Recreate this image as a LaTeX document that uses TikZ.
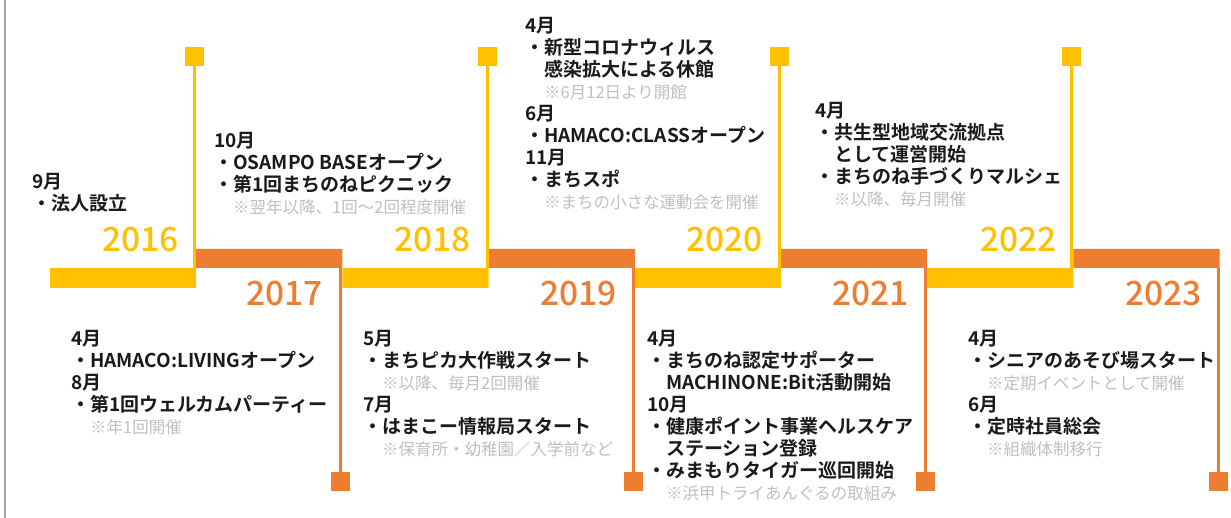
\documentclass[tikz,border=0pt]{standalone}
\usepackage{fontspec}
\setmainfont{Noto Sans CJK JP}[BoldFont={* Bold}]
\newfontfamily\yearfont{Noto Sans CJK JP Medium}
\definecolor{hyellow}{HTML}{FFC000}
\definecolor{horange}{HTML}{ED7D31}
\definecolor{memogray}{HTML}{BFBFBF}
\definecolor{txtblack}{HTML}{1A1A1A}
\definecolor{framegray}{HTML}{A6A6A6}
\newcommand\memo[1]{\hspace*{1em}{\mdseries\fontsize{16.5}{22}\selectfont\color{memogray}#1}}
\tikzset{
  evbox/.style={anchor=north west,align=left,inner sep=0pt,text=txtblack,font=\bfseries\fontsize{19}{22}\selectfont},
  yearup/.style={anchor=base east,inner sep=0pt,text=hyellow,font=\yearfont\fontsize{33.5}{34}\selectfont},
  yeardown/.style={yearup,text=horange},
  ysq/.style={fill=hyellow,minimum size=19pt,inner sep=0pt},
  osq/.style={fill=horange,minimum size=19pt,inner sep=0pt},
  yline/.style={draw=hyellow,line width=3pt},
  oline/.style={draw=horange,line width=3pt}
}
\begin{document}
\begin{tikzpicture}[x=1pt,y=-1pt]
  \useasboundingbox (0,0) rectangle (1231,518);
  \draw[framegray,line width=2pt] (5,0)--(5,518);
  \fill[hyellow] (50,268) rectangle (196.2,288) (342.4,268) rectangle (488.6,288) (634.8,268) rectangle (781,288) (927.2,268) rectangle (1073.4,288);
  \fill[horange] (196.2,249) rectangle (342.4,268) (488.6,249) rectangle (634.8,268) (781,249) rectangle (927.2,268) (1073.4,249) rectangle (1219.6,268);
  \coordinate (b16) at (194.7,268); \coordinate (b18) at (487.1,268);
  \coordinate (b20) at (779.5,268); \coordinate (b22) at (1071.9,268);
  \coordinate (b17) at (340.9,268); \coordinate (b19) at (633.3,268);
  \coordinate (b21) at (925.7,268); \coordinate (b23) at (1218.1,268);
  \node[ysq] (s16) at (194.7,56.5) {}; \node[ysq] (s18) at (487.1,56.5) {};
  \node[ysq] (s20) at (779.5,56.5) {}; \node[ysq] (s22) at (1071.9,56.5) {};
  \node[osq] (s17) at (340.9,481.5) {}; \node[osq] (s19) at (633.3,481.5) {};
  \node[osq] (s21) at (925.7,481.5) {}; \node[osq] (s23) at (1218.1,481.5) {};
  \draw[yline] (s16.center)--(b16) (s18.center)--(b18) (s20.center)--(b20) (s22.center)--(b22);
  \draw[oline] (b17)--(s17.center) (b19)--(s19.center) (b21)--(s21.center) (b23)--(s23.center);
  \node[yearup] (y16) at (179,252) {2016};
  \node[yearup] (y18) at (471,252) {2018};
  \node[yearup] (y20) at (763,252) {2020};
  \node[yearup] (y22) at (1057,252) {2022};
  \node[yeardown] (y17) at (323,306) {2017};
  \node[yeardown] (y19) at (617,306) {2019};
  \node[yeardown] (y21) at (909,306) {2021};
  \node[yeardown] (y23) at (1202,306) {2023};
  \node[evbox] (ev16) at (32,173) {9月\\・法人設立};
  \node[evbox] (ev17a) at (214,132) {10月\\・OSAMPO BASEオープン\\・第1回まちのねピクニック\\\memo{※翌年以降、1回～2回程度開催}};
  \node[evbox] (ev20a) at (525,17) {4月\\・新型コロナウィルス\\\hspace*{1em}感染拡大による休館\\\memo{※6月12日より開館}\\6月\\・HAMACO:CLASSオープン\\11月\\・まちスポ\\\memo{※まちの小さな運動会を開催}};
  \node[evbox] (ev22a) at (815,102) {4月\\・共生型地域交流拠点\\\hspace*{1em}として運営開始\\・まちのね手づくりマルシェ\\\memo{※以降、毎月開催}};
  \node[evbox] (ev17b) at (71,330) {4月\\・HAMACO:LIVINGオープン\\8月\\・第1回ウェルカムパーティー\\\memo{※年1回開催}};
  \node[evbox] (ev19b) at (363,330) {5月\\・まちピカ大作戦スタート\\\memo{※以降、毎月2回開催}\\7月\\・はまこー情報局スタート\\\memo{※保育所・幼稚園／入学前など}};
  \node[evbox] (ev21b) at (647,330) {4月\\・まちのね認定サポーター\\\hspace*{1em}MACHINONE:Bit活動開始\\10月\\・健康ポイント事業ヘルスケア\\\hspace*{1em}ステーション登録\\・みまもりタイガー巡回開始\\\memo{※浜甲トライあんぐるの取組み}};
  \node[evbox] (ev23b) at (968,330) {4月\\・シニアのあそび場スタート\\\memo{※定期イベントとして開催}\\6月\\・定時社員総会\\\memo{※組織体制移行}};
\end{tikzpicture}
\end{document}
